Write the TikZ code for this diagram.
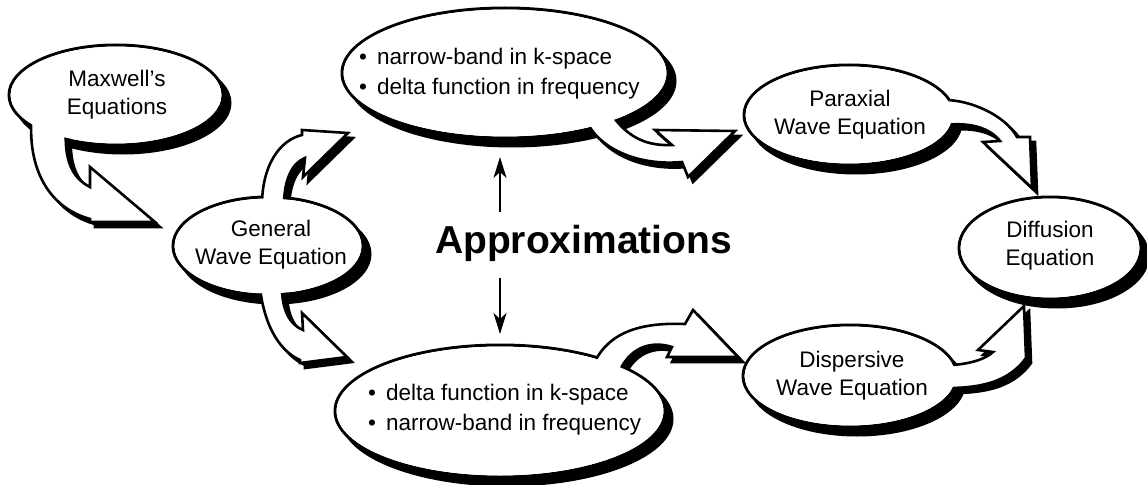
\documentclass[tikz,border=0pt]{standalone}
\usepackage{fontspec}
\setmainfont{Liberation Sans}
\usetikzlibrary{arrows.meta}
\pgfdeclarelayer{bg}
\pgfdeclarelayer{mid}
\pgfdeclarelayer{fillr}
\pgfsetlayers{bg,mid,fillr,main}
\tikzset{
  bubbleshadow/.style={fill=black},
  bubbleline/.style={draw=black, fill=white, line width=3pt},
  bubblefill/.style={fill=white},
  blockarrow/.style={draw=black, fill=white, line width=2.6pt, line join=miter, miter limit=20},
  blockshadow/.style={draw=black, fill=black, line width=2.6pt, line join=miter, miter limit=20, shift={(5,5)}},
  namelabel/.style={font=\fontsize{22.5}{28}\selectfont, align=center, inner sep=0pt},
  bulletlist/.style={font=\fontsize{22.5}{30}\selectfont, align=left, inner sep=0pt, anchor=west},
  thinarrow/.style={line width=2pt, -{Stealth[length=21pt,width=13pt,inset=6pt]}},
}
\begin{document}
\begin{tikzpicture}[x=1pt,y=-1pt]
\useasboundingbox (0,0) rectangle (1147,484);
\def\bubbles{116/95/107/50, 268/246/95/49, 505/73/163/65, 500/411/165/66, 849/115/105/50, 850/376/107/51, 1050/248/91/51}
\begin{pgfonlayer}{bg}
  \foreach \cx/\cy/\rx/\ry in \bubbles {
    \fill[bubbleshadow] (\cx+7,\cy+8) ellipse [x radius=\rx pt+1.5pt, y radius=\ry pt+1.5pt];
  }
  \foreach \cx/\cy/\rx/\ry in \bubbles {
    \draw[bubbleline] (\cx,\cy) ellipse [x radius=\rx pt, y radius=\ry pt];
  }
\end{pgfonlayer}
\def\arrMG{(32,112) .. controls (26,170) and (50,208) .. (90,219) -- (90,222) -- (155,222) -- (90,167) -- (90,187) .. controls (72,178) and (64,160) .. (66,128) -- cycle}
\def\arrGT{(262,205) .. controls (262,165) and (280,140) .. (302,135) -- (302,130) -- (348,133) -- (303,177) -- (305,158) .. controls (292,163) and (284,180) .. (284,205) -- cycle}
\def\arrGB{(260,288) .. controls (265,330) and (282,352) .. (300,360) -- (300,363) -- (347,357) -- (302,313) -- (303,330) .. controls (290,325) and (282,310) .. (282,288) -- cycle}
\def\arrTP{(610,112) .. controls (628,140) and (650,146) .. (672,145) -- (655,130) -- (735,131) -- (688,177) -- (682,162) .. controls (640,166) and (598,150) .. (585,118) -- cycle}
\def\arrBD{(592,368) .. controls (605,335) and (635,322) .. (685,324) -- (693,310) -- (738,357) -- (667,357) -- (672,347) .. controls (650,340) and (628,348) .. (618,375) -- cycle}
\def\arrPF{(945,100) .. controls (970,100) and (1005,115) .. (1017,137) -- (1030,137) -- (1032,188) -- (983,142) -- (1000,141) .. controls (990,128) and (970,122) .. (945,125) -- cycle}
\def\arrDF{(948,365) .. controls (965,365) and (985,360) .. (993,352) -- (978,350) -- (1024,306) -- (1026,358) .. controls (1010,380) and (985,388) .. (948,388) -- cycle}
\begin{pgfonlayer}{mid}
  \path[blockshadow] \arrMG; \path[blockarrow] \arrMG;
  \path[blockshadow] \arrGT; \path[blockarrow] \arrGT;
  \path[blockshadow] \arrGB; \path[blockarrow] \arrGB;
  \path[blockshadow] \arrTP; \path[blockarrow] \arrTP;
  \path[blockshadow] \arrBD; \path[blockarrow] \arrBD;
  \path[blockshadow] \arrPF; \path[blockarrow] \arrPF;
  \path[blockshadow] \arrDF; \path[blockarrow] \arrDF;
\end{pgfonlayer}
\begin{pgfonlayer}{fillr}
  \foreach \cx/\cy/\rx/\ry in \bubbles {
    \fill[bubblefill] (\cx,\cy) ellipse [x radius=\rx pt-1.6pt, y radius=\ry pt-1.6pt];
  }
\end{pgfonlayer}
\node[namelabel] (M) at (117,95) {Maxwell’s\\Equations};
\node[namelabel] (G) at (271,245) {General\\Wave Equation};
\node[bulletlist] (T) at (359,74) {•\hspace{10pt}narrow-band in k-space\\•\hspace{10pt}delta function in frequency};
\node[bulletlist] (B) at (368,410) {•\hspace{10pt}delta function in k-space\\•\hspace{10pt}narrow-band in frequency};
\node[namelabel] (P) at (850,115) {Paraxial\\Wave Equation};
\node[namelabel] (Dp) at (852,376) {Dispersive\\Wave Equation};
\node[namelabel] (Df) at (1050,246) {Diffusion\\Equation};
\node[font=\bfseries\fontsize{39}{45}\selectfont, anchor=base, inner sep=0pt] (A) at (583.5,253) {Approximations};
\coordinate (upS) at (500,212);
\coordinate (upT) at (500,157);
\coordinate (dnS) at (500,278);
\coordinate (dnT) at (500,334);
\draw[thinarrow] (upS) -- (upT);
\draw[thinarrow] (dnS) -- (dnT);
\end{tikzpicture}
\end{document}
